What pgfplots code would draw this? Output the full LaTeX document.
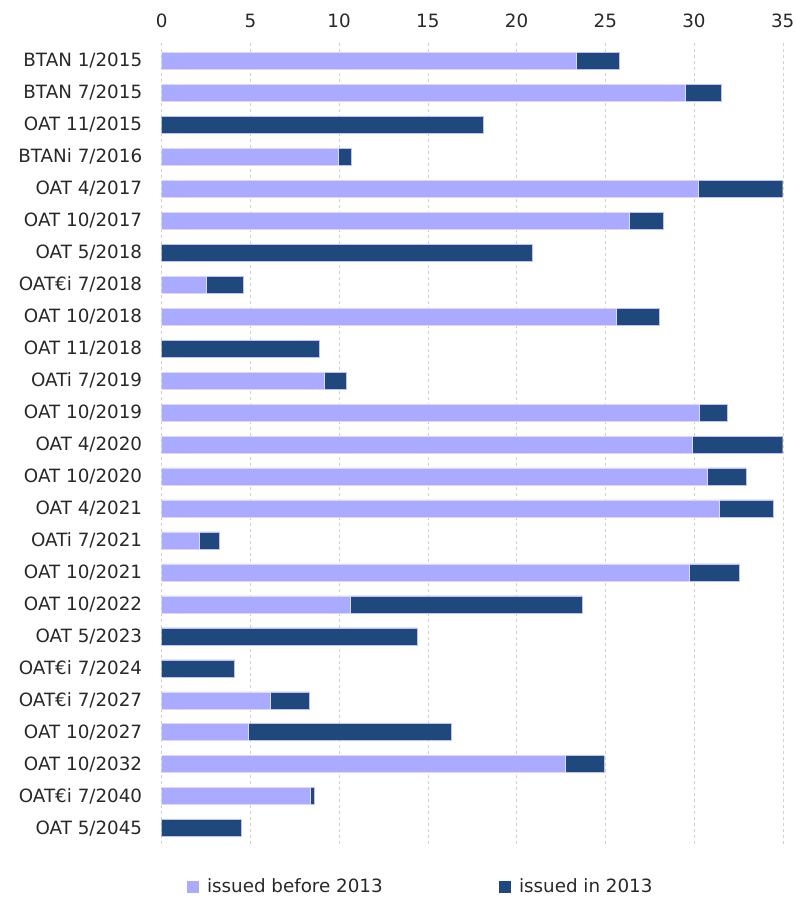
\documentclass[border=0pt]{standalone}
\usepackage{fontspec}
\setmainfont{DejaVu Sans}
\usepackage{pgfplots}
\pgfplotsset{compat=1.18}
\usepackage{pgfplotstable}
\definecolor{before}{RGB}{170,170,255}
\definecolor{in13}{RGB}{31,73,125}
\definecolor{txt}{RGB}{40,40,40}

\pgfplotstableread{
idx before in
0 23.39 2.39
1 29.52 1.99
2 0 18.13
3 9.94 0.75
4 30.25 4.79
5 26.36 1.92
6 0 20.91
7 2.50 2.10
8 25.61 2.46
9 0 8.89
10 9.17 1.24
11 30.27 1.61
12 29.89 5.15
13 30.76 2.18
14 31.43 3.05
15 2.12 1.13
16 29.71 2.85
17 10.60 13.08
18 0 14.41
19 0 4.11
20 6.11 2.21
21 4.88 11.45
22 22.73 2.20
23 8.40 0.20
24 0 4.49
}\datatable

\begin{document}
\begin{tikzpicture}
\begin{axis}[
  scale only axis, width=621pt, height=804pt,
  xbar stacked, bar width=17pt,
  xmin=0, xmax=35, ymin=-0.56, ymax=24.59, y dir=reverse,
  ytick={0,...,24},
  yticklabels={BTAN 1/2015, BTAN 7/2015, OAT 11/2015, BTANi 7/2016, OAT 4/2017, OAT 10/2017, OAT 5/2018, OAT€i 7/2018, OAT 10/2018, OAT 11/2018, OATi 7/2019, OAT 10/2019, OAT 4/2020, OAT 10/2020, OAT 4/2021, OATi 7/2021, OAT 10/2021, OAT 10/2022, OAT 5/2023, OAT€i 7/2024, OAT€i 7/2027, OAT 10/2027, OAT 10/2032, OAT€i 7/2040, OAT 5/2045},
  xtick={0,5,...,35},
  xticklabel pos=upper,
  /pgf/number format/assume math mode=true,
  axis line style={draw=none}, tick style={draw=none},
  xmajorgrids, grid style={dashed, black!18},
  ticklabel style={font=\fontsize{18.3}{21}\selectfont, text=txt},
  xticklabel shift=12pt, yticklabel shift=16pt,
  legend columns=2,
  legend style={at={(0.417,-0.0494)}, anchor=center, draw=none, fill=none,
    font=\fontsize{18.3}{21}\selectfont, text=txt,
    /tikz/every even column/.append style={column sep=114pt}},
  legend image code/.code={\fill[#1,draw=none] (0pt,-6pt) rectangle (12pt,6pt); \path (18pt,0pt);},
]
\addplot[fill=before, draw=white!85!blue, line width=0.5pt] table[x=before, y=idx] {\datatable};
\addlegendentry{issued before 2013}
\addplot[fill=in13, draw=white!75!blue, line width=0.5pt] table[x=in, y=idx] {\datatable};
\addlegendentry{issued in 2013}
\end{axis}
\pgfresetboundingbox
\path (-161.7pt,-52pt) rectangle (633.3pt,847pt);
\end{tikzpicture}
\end{document}
